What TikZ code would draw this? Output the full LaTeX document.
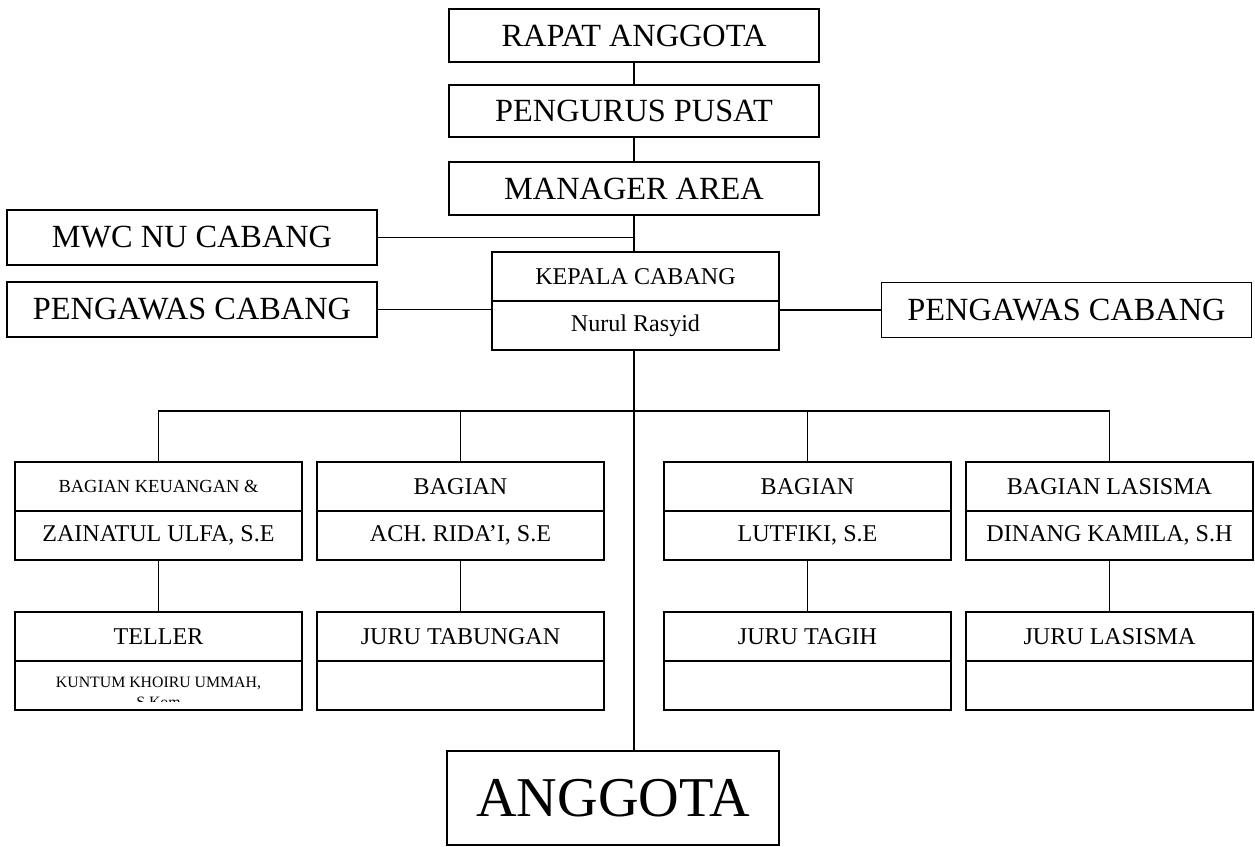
\documentclass[tikz,border=0pt]{standalone}
\usepackage{fontspec}
\setmainfont{Liberation Serif}
\usetikzlibrary{positioning}

\begin{document}
\begin{tikzpicture}[x=0.02cm, y=-0.02cm, line width=1pt,
    box/.style={draw, inner sep=0pt, outer sep=0pt, align=center},
    topbox/.style={box, minimum width=7.4cm, minimum height=1.05cm, lg},
    sidebox/.style={box, minimum width=7.4cm, minimum height=1.1cm, lg},
    halfbox/.style={box, minimum width=5.74cm, minimum height=0.98cm},
    lg/.style={font=\fontsize{18.4}{21}\selectfont},
    md/.style={font=\fontsize{13.7}{16}\selectfont},
    sm/.style={font=\fontsize{10.5}{12}\selectfont},
    xs/.style={font=\fontsize{9}{11}\selectfont}]
    \useasboundingbox (0,0) rectangle (1255,846);

    % pusat
    \node[topbox] (rapat) at (634,35.5) {RAPAT ANGGOTA};
    \node[topbox] (pusat) at (634,111) {PENGURUS PUSAT};
    \node[topbox] (manager) at (634,188.5) {MANAGER AREA};

    % cabang
    \node[sidebox] (mwc) at (192,237.5) {MWC NU CABANG};
    \node[sidebox] (pengawasKiri) at (192,309.5) {PENGAWAS CABANG};
    \node[sidebox] (pengawasKanan) at (1066.5,310) {PENGAWAS CABANG};
    \node[halfbox, md] (kepala) at (635.5,276.5) {KEPALA CABANG};
    \node[halfbox, md, below=0pt of kepala] (kepalaNama) {Nurul Rasyid};

    % bagian
    \node[halfbox, sm] (keu) at (158.5,486.5) {BAGIAN KEUANGAN \&};
    \node[halfbox, md, below=0pt of keu] (keuNama) {ZAINATUL ULFA, S.E};
    \node[halfbox, md] (tabung) at (460.5,486.5) {BAGIAN};
    \node[halfbox, md, below=0pt of tabung] (tabungNama) {ACH. RIDA’I, S.E};
    \node[halfbox, md] (tagih) at (807.5,486.5) {BAGIAN};
    \node[halfbox, md, below=0pt of tagih] (tagihNama) {LUTFIKI, S.E};
    \node[halfbox, md] (lasisma) at (1109.5,486.5) {BAGIAN LASISMA};
    \node[halfbox, md, below=0pt of lasisma] (lasismaNama) {DINANG KAMILA, S.H};

    % juru
    \node[halfbox, md] (teller) at (158.5,636.5) {TELLER};
    \node[halfbox, below=0pt of teller] (tellerNama) {};
    \node[xs, anchor=base] (tellerIsi) at (158.5,687) {KUNTUM KHOIRU UMMAH,};
    \begin{scope}
        \clip (17,661) rectangle (300,701);
        \node[xs, anchor=base] (tellerGelar) at (158.5,707.5) {S.Kom};
    \end{scope}
    \node[halfbox, md] (juruTabungan) at (460.5,636.5) {JURU TABUNGAN};
    \node[halfbox, below=0pt of juruTabungan] (juruTabunganNama) {};
    \node[halfbox, md] (juruTagih) at (807.5,636.5) {JURU TAGIH};
    \node[halfbox, below=0pt of juruTagih] (juruTagihNama) {};
    \node[halfbox, md] (juruLasisma) at (1109.5,636.5) {JURU LASISMA};
    \node[halfbox, below=0pt of juruLasisma] (juruLasismaNama) {};

    \node[box, minimum width=6.64cm, minimum height=1.88cm,
        font=\fontsize{32}{36}\selectfont] (anggota) at (613,798) {ANGGOTA};

    % garis
    \draw (rapat) -- (pusat);
    \draw (pusat) -- (manager);
    \draw (manager.south) -- (kepala.north -| manager.south);
    \draw (mwc.east) -- (mwc.east -| manager.south);
    \draw (pengawasKiri.east) -- (pengawasKiri.east -| kepalaNama.west);
    \draw (pengawasKanan.west) -- (pengawasKanan.west -| kepalaNama.east);
    \draw (kepalaNama.south -| manager.south) -- (anggota.north -| manager.south);
    \coordinate (bus) at (634,411);
    \draw (keu.north) |- (bus) -| (lasisma.north);
    \draw (tabung.north) -- (tabung.north |- bus);
    \draw (tagih.north) -- (tagih.north |- bus);
    \draw (keuNama) -- (teller);
    \draw (tabungNama) -- (juruTabungan);
    \draw (tagihNama) -- (juruTagih);
    \draw (lasismaNama) -- (juruLasisma);
\end{tikzpicture}
\end{document}
